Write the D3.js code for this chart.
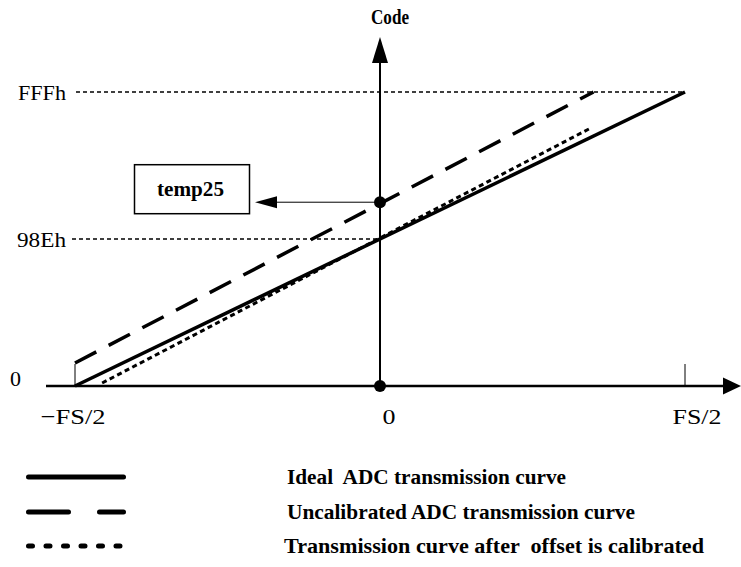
<!DOCTYPE html>
<html>
<head>
<meta charset="utf-8">
<script src="https://cdn.jsdelivr.net/npm/d3@7"></script>
<style>
  html, body { margin: 0; padding: 0; background: #fff; }
  svg { display: block; }
  text { white-space: pre; }
</style>
</head>
<body>
<svg id="chart" width="741" height="567"></svg>
<script>
// ---- data ----
const xTickValues = [-1, 0, 1];                 // in units of FS/2
const xTickLabels = ["\u2212FS/2", "0", "FS/2"];
const yTickValues = [0, 2047, 4095];             // ADC code
const yTickLabels = ["0", "98Eh", "FFFh"];
const idealCurve = [[-1, 0], [1, 4095]];
const uncalibratedCurve = [[-1, 320], [0.7, 4095]];
const calibratedCurve = [[-0.911, 42], [0.685, 3580]];
const temp25Point = [0, 2560];
const zeroPoint = [0, 0];
const axisTitle = "Code";
const temp25Label = "temp25";
const legendLabels = [
  "Ideal  ADC transmission curve",
  "Uncalibrated ADC transmission curve",
  "Transmission curve after  offset is calibrated"
];

// ---- drawing ----
const svg = d3.select("#chart");
const x = d3.scaleLinear().domain([-1, 1]).range([75, 685]);
const y = d3.scaleLinear().domain([0, 4095]).range([386, 92]);
const serif = "Liberation Serif, Times New Roman, Times, serif";

const line = d3.line().x(d => x(d[0])).y(d => y(d[1]));

// guide dashed lines
svg.append("line")
  .attr("x1", x(-1) + 1).attr("x2", x(1))
  .attr("y1", y(4095)).attr("y2", y(4095))
  .attr("stroke", "#000").attr("stroke-width", 1.5).attr("stroke-dasharray", "4,3");
svg.append("line")
  .attr("x1", x(-1) - 3).attr("x2", x(0))
  .attr("y1", y(2047)).attr("y2", y(2047))
  .attr("stroke", "#000").attr("stroke-width", 1.5).attr("stroke-dasharray", "4,3");

// x axis
const x0 = x(0), yBase = y(0);
svg.append("line").attr("x1", 46).attr("x2", 725).attr("y1", yBase).attr("y2", yBase)
  .attr("stroke", "#000").attr("stroke-width", 2.5);
svg.append("path")
  .attr("d", `M741,${yBase} L723,${yBase - 8.5} L723,${yBase + 8.5} Z`).attr("fill", "#000");
// y axis
svg.append("line").attr("x1", x0).attr("x2", x0).attr("y1", yBase).attr("y2", 60)
  .attr("stroke", "#000").attr("stroke-width", 2);
svg.append("path")
  .attr("d", `M${x0},37 L${x0 - 8},63 L${x0 + 8},63 Z`).attr("fill", "#000");

// ticks at ±FS/2
svg.selectAll(".xtick").data(xTickValues.filter(v => v !== 0)).enter()
  .append("line").attr("class", "xtick")
  .attr("x1", d => x(d)).attr("x2", d => x(d))
  .attr("y1", yBase).attr("y2", yBase - 22)
  .attr("stroke", "#000").attr("stroke-width", 1);

// x tick labels
const xLabelDx = [-2, 9, 12];
const xLabelLen = [65, 13, 49];
svg.selectAll(".xlab").data(xTickValues).enter()
  .append("text").attr("class", "xlab")
  .attr("x", (d, i) => x(d) + xLabelDx[i] - xLabelLen[i] / 2)
  .attr("y", yBase + 38)
  .attr("font-family", serif).attr("font-size", 22)
  .attr("textLength", (d, i) => xLabelLen[i]).attr("lengthAdjust", "spacingAndGlyphs")
  .text((d, i) => xTickLabels[i]);

// y tick labels
const yLabelX = [10, 17, 18];
const yLabelLen = [11, 49, 48];
svg.selectAll(".ylab").data(yTickValues).enter()
  .append("text").attr("class", "ylab")
  .attr("x", (d, i) => yLabelX[i])
  .attr("y", (d, i) => (i === 0 ? y(d) - 8 : y(d)) + 8)
  .attr("font-family", serif).attr("font-size", 22)
  .attr("textLength", (d, i) => yLabelLen[i]).attr("lengthAdjust", "spacingAndGlyphs")
  .text((d, i) => yTickLabels[i]);

// axis title
svg.append("text").attr("x", x0 - 9).attr("y", 24)
  .attr("font-family", serif).attr("font-size", 22).attr("font-weight", "bold")
  .attr("textLength", 38).attr("lengthAdjust", "spacingAndGlyphs")
  .text(axisTitle);

// curves
svg.append("path").datum(idealCurve).attr("d", line)
  .attr("fill", "none").attr("stroke", "#000").attr("stroke-width", 3.5);
svg.append("path").datum(uncalibratedCurve).attr("d", line)
  .attr("fill", "none").attr("stroke", "#000").attr("stroke-width", 3.5)
  .attr("stroke-dasharray", "24,14");
svg.append("path").datum(calibratedCurve).attr("d", line)
  .attr("fill", "none").attr("stroke", "#000").attr("stroke-width", 3)
  .attr("stroke-dasharray", "5,3.5");

// temp25 marker and arrow
const tp = [x(temp25Point[0]), y(temp25Point[1])];
svg.append("line").attr("x1", tp[0]).attr("x2", 275).attr("y1", tp[1]).attr("y2", tp[1])
  .attr("stroke", "#000").attr("stroke-width", 1);
svg.append("path")
  .attr("d", `M255,${tp[1]} L277,${tp[1] - 6} L277,${tp[1] + 6} Z`).attr("fill", "#000");
svg.append("rect").attr("x", 134.5).attr("y", tp[1] - 37.5).attr("width", 115).attr("height", 49)
  .attr("fill", "#fff").attr("stroke", "#000").attr("stroke-width", 1.5);
svg.append("text").attr("x", 157).attr("y", tp[1] - 6)
  .attr("font-family", serif).attr("font-size", 21).attr("font-weight", "bold")
  .attr("textLength", 67).attr("lengthAdjust", "spacingAndGlyphs")
  .text(temp25Label);

svg.selectAll(".pt").data([temp25Point, zeroPoint]).enter()
  .append("circle").attr("class", "pt")
  .attr("cx", d => x(d[0])).attr("cy", d => y(d[1])).attr("r", 6).attr("fill", "#000");

// legend
const legendY = [477, 512, 546];
const legendDash = [null, "40,31", "4,13.5"];
const legendTextX = [287, 287, 284];
const legendTextLen = [279, 348, 420];
legendLabels.forEach((lab, i) => {
  const g = svg.append("g");
  g.append("line").attr("x1", 28.5).attr("x2", 123.5)
    .attr("y1", legendY[i]).attr("y2", legendY[i])
    .attr("stroke", "#000").attr("stroke-width", 5).attr("stroke-linecap", "round")
    .attr("stroke-dasharray", legendDash[i]);
  g.append("text").attr("x", legendTextX[i]).attr("y", legendY[i] + 7)
    .attr("font-family", serif).attr("font-size", 20).attr("font-weight", "bold")
    .attr("textLength", legendTextLen[i]).attr("lengthAdjust", "spacingAndGlyphs")
    .text(lab);
});
</script>
</body>
</html>
